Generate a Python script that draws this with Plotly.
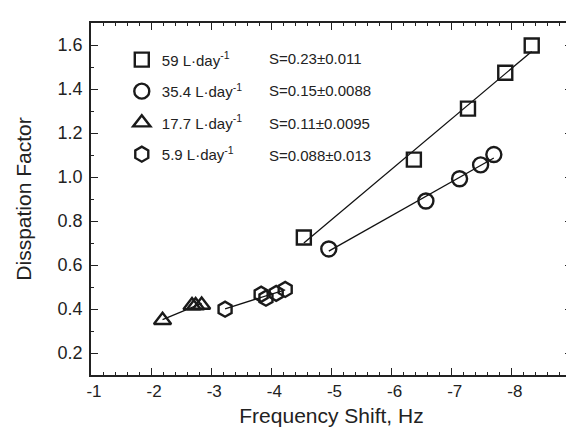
import numpy as np
import plotly.graph_objects as go

# ---- data ----
sq_x = [-4.54, -6.37, -7.27, -7.89, -8.33]
sq_y = [0.725, 1.079, 1.311, 1.474, 1.598]
ci_x = [-4.955, -6.57, -7.13, -7.48, -7.70]
ci_y = [0.673, 0.891, 0.992, 1.055, 1.102]
tr_x = [-2.19, -2.68, -2.74, -2.84]
tr_y = [0.349, 0.416, 0.416, 0.418]
hx_x = [-3.23, -3.83, -3.91, -4.08, -4.23]
hx_y = [0.399, 0.467, 0.449, 0.471, 0.489]

names = ["59 L·day<sup>-1</sup>", "35.4 L·day<sup>-1</sup>",
         "17.7 L·day<sup>-1</sup>", "5.9 L·day<sup>-1</sup>"]
slopes = ["S=0.23±0.011", "S=0.15±0.0088", "S=0.11±0.0095", "S=0.088±0.013"]
symbols = ["square-open", "circle-open", "triangle-up-open", "hexagon-open"]
sizes = [14, 15, 15, 15]

x_tickvals = [-1, -2, -3, -4, -5, -6, -7, -8, -9]
x_ticktext = ["-1", "-2", "-3", "-4", "-5", "-6", "-7", "-8", "-9"]

series = [(sq_x, sq_y), (ci_x, ci_y), (tr_x, tr_y), (hx_x, hx_y)]

FONT = "Liberation Sans, Arial, sans-serif"
fig = go.Figure()

for i, (xs, ys) in enumerate(series):
    xs = np.array(xs); ys = np.array(ys)
    m, b = np.polyfit(xs, ys, 1)
    xl = np.array([xs.min(), xs.max()])
    fig.add_trace(go.Scatter(x=xl, y=m * xl + b, mode="lines",
                             line=dict(color="#111", width=1.3),
                             showlegend=False, hoverinfo="skip"))
    fig.add_trace(go.Scatter(x=xs, y=ys, mode="markers", name=names[i],
                             legendgroup=str(i),
                             marker=dict(symbol=symbols[i], size=sizes[i],
                                         color="#1a1a1a",
                                         line=dict(color="#1a1a1a", width=2.4))))

ys_paper = [0.899, 0.807, 0.715, 0.623]
for s, yp in zip(slopes, ys_paper):
    fig.add_annotation(x=0.366, y=yp, xref="paper", yref="paper", text=s,
                       showarrow=False, xanchor="left", yanchor="middle",
                       font=dict(size=15, color="#222", family=FONT))

axis_common = dict(showline=True, linecolor="#222", linewidth=1.5, mirror="ticks",
                   ticks="inside", tickcolor="#222", ticklen=7, tickwidth=1.2,
                   showgrid=False, zeroline=False, automargin=False)

fig.update_xaxes(range=[-1, -9], tickvals=x_tickvals, ticktext=x_ticktext,
                 ticklabelshift=-3,
                 tickfont=dict(size=17, color="#222", family=FONT),
                 minor=dict(dtick=0.2, tick0=-1, ticks="inside", ticklen=3,
                            tickcolor="#222", tickwidth=1),
                 title=dict(text="Frequency Shift, Hz", standoff=8,
                            font=dict(size=21, color="#222", family=FONT)),
                 **axis_common)
fig.update_yaxes(range=[0.1, 1.7], dtick=0.2, tick0=0.2, tickformat=".1f",
                 ticklabelstandoff=3,
                 tickfont=dict(size=18, color="#222", family=FONT),
                 minor=dict(dtick=0.1, tick0=0.1, ticks="inside", ticklen=3,
                            tickcolor="#222", tickwidth=1),
                 title=dict(text="Disspation Factor", standoff=20,
                            font=dict(size=21, color="#222", family=FONT)),
                 **axis_common)

fig.update_layout(width=574, height=428,
                  margin=dict(l=83, r=10, t=15, b=61),
                  plot_bgcolor="white", paper_bgcolor="white",
                  font=dict(family=FONT, color="#222"),
                  legend=dict(x=0.064, y=0.942, xanchor="left", yanchor="top",
                              font=dict(size=15, color="#222", family=FONT),
                              bgcolor="rgba(0,0,0,0)", tracegroupgap=9,
                              itemwidth=30),
                  showlegend=True)

fig.write_html("out.html")
